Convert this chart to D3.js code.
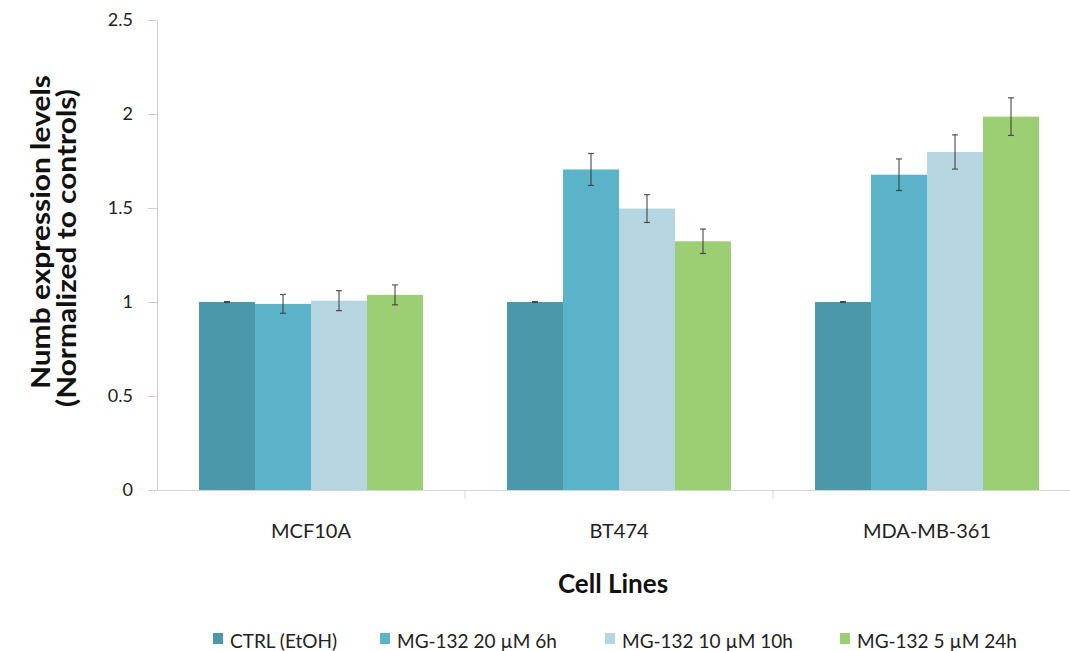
<!DOCTYPE html>
<html><head><meta charset="utf-8">
<script src="https://cdn.jsdelivr.net/npm/d3@7"></script>
<style>body{margin:0;background:#fff}svg{display:block}</style>
</head><body>
<script>
const categories = ["MCF10A", "BT474", "MDA-MB-361"];
const seriesNames = ["CTRL (EtOH)", "MG-132 20 \u00b5M 6h", "MG-132 10 \u00b5M 10h", "MG-132 5 \u00b5M 24h"];
const ctrl   = [1.00, 1.00, 1.00];
const mg20   = [0.99, 1.705, 1.677];
const mg10   = [1.007, 1.497, 1.798];
const mg5    = [1.038, 1.323, 1.986];
const ctrlErr = [0.002, 0.002, 0.002];
const mg20Err = [0.05, 0.085, 0.084];
const mg10Err = [0.053, 0.074, 0.091];
const mg5Err  = [0.053, 0.065, 0.10];
const yTicks = [0, 0.5, 1, 1.5, 2, 2.5];
const colors = ["#4b98ab", "#5ab3c8", "#b5d5e0", "#9ccf74"];

const values = [ctrl, mg20, mg10, mg5];
const errs = [ctrlErr, mg20Err, mg10Err, mg5Err];
const W = 1070, H = 651;
const svg = d3.select("body").append("svg").attr("width", W).attr("height", H);
const font = "Lato, 'Open Sans', sans-serif";

const x0 = d3.scaleBand().domain(categories).range([157, 1081]).paddingInner(0).paddingOuter(0);
const y = d3.scaleLinear().domain([0, 2.5]).range([490, 20]);

// bars
const data = [];
categories.forEach((c, ci) => {
  values.forEach((s, si) => data.push({c, si, v: s[ci], e: errs[si][ci]}));
});
const groupW = 224, barW = groupW / 4;
const xb = d => x0(d.c) + (x0.bandwidth() - groupW) / 2 + d.si * barW;

svg.append("g").selectAll("rect").data(data).join("rect")
  .attr("x", d => xb(d))
  .attr("width", barW)
  .attr("y", d => y(d.v))
  .attr("height", d => y(0) - y(d.v))
  .attr("fill", d => colors[d.si]);

// y axis
const yAxis = svg.append("g").attr("transform", "translate(157,0)")
  .call(d3.axisLeft(y).tickValues(yTicks).tickSize(9).tickPadding(15).tickFormat(d => d3.format("")(d)));
yAxis.select(".domain").attr("stroke", "#d8caca");
yAxis.selectAll(".tick line").attr("stroke", "#d8caca");
yAxis.selectAll(".tick text").attr("font-family", font).attr("font-size", 18).attr("fill", "#222");

// x axis
const xAxis = svg.append("g").attr("transform", "translate(0,490)")
  .call(d3.axisBottom(x0).tickSize(0).tickPadding(34));
xAxis.select(".domain").attr("stroke", "#d6d6d6");
xAxis.selectAll(".tick text").attr("font-family", font).attr("font-size", 20).attr("fill", "#222");
// category separators
svg.append("g").selectAll("line").data(categories.slice(1)).join("line")
  .attr("x1", d => x0(d)).attr("x2", d => x0(d))
  .attr("y1", 490).attr("y2", 499).attr("stroke", "#d6d6d6");

// error bars
const eg = svg.append("g").attr("stroke", "#3a3a3a").attr("stroke-width", 1.2).attr("stroke-opacity", 0.85);
data.forEach(d => {
  const cx = xb(d) + barW / 2;
  eg.append("line").attr("x1", cx).attr("x2", cx).attr("y1", y(d.v + d.e)).attr("y2", y(d.v - d.e));
  eg.append("line").attr("x1", cx - 3).attr("x2", cx + 3).attr("y1", y(d.v + d.e)).attr("y2", y(d.v + d.e));
  eg.append("line").attr("x1", cx - 3).attr("x2", cx + 3).attr("y1", y(d.v - d.e)).attr("y2", y(d.v - d.e));
});

// y title
svg.append("text").attr("transform", "translate(50,232) rotate(-90)")
  .attr("text-anchor", "middle").attr("font-family", font).attr("font-weight", "bold")
  .attr("font-size", 26).attr("fill", "#111")
  .attr("textLength", 314).attr("lengthAdjust", "spacingAndGlyphs")
  .text("Numb expression levels");
svg.append("text").attr("transform", "translate(76,248) rotate(-90)")
  .attr("text-anchor", "middle").attr("font-family", font).attr("font-weight", "bold")
  .attr("font-size", 26).attr("fill", "#111")
  .attr("textLength", 318).attr("lengthAdjust", "spacingAndGlyphs")
  .text("(Normalized to controls)");

// x title
svg.append("text").attr("x", 613).attr("y", 593).attr("text-anchor", "middle")
  .attr("font-family", font).attr("font-weight", "bold").attr("font-size", 26).attr("fill", "#111")
  .text("Cell Lines");

// legend
const legX = [213, 380, 605, 840];
const lg = svg.append("g");
seriesNames.forEach((n, i) => {
  lg.append("rect").attr("x", legX[i]).attr("y", 633).attr("width", 10).attr("height", 11).attr("fill", colors[i]);
  lg.append("text").attr("x", legX[i] + 17).attr("y", 648).attr("font-family", font)
    .attr("font-size", 19).attr("fill", "#222").text(n);
});
</script>
</body></html>
